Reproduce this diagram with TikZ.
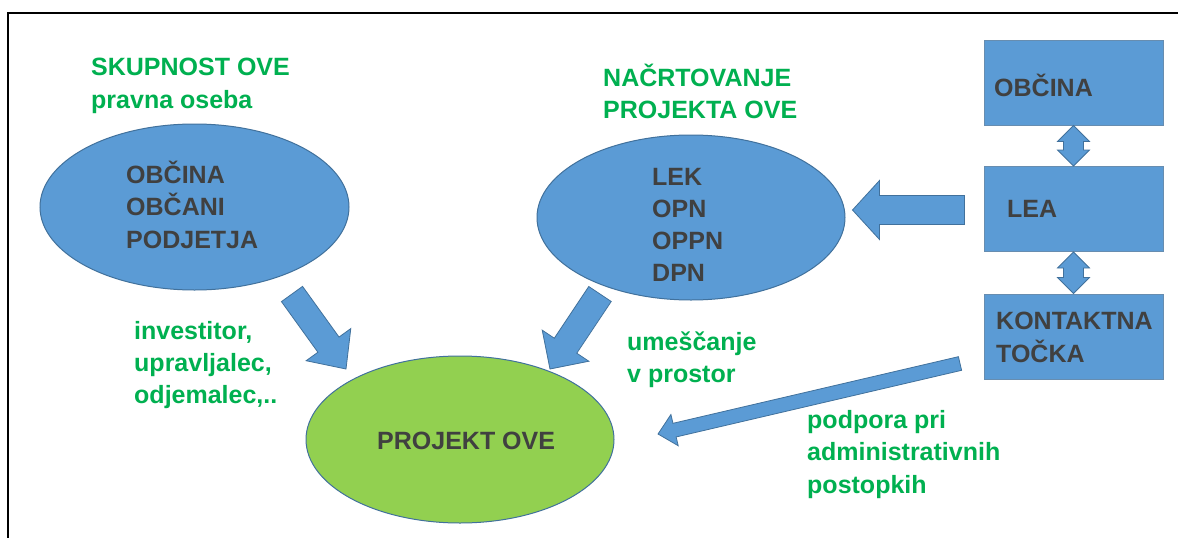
\documentclass[tikz,border=0pt]{standalone}
\usepackage{fontspec}
\setmainfont{Liberation Sans}
\usetikzlibrary{calc,shapes.geometric}
\definecolor{bfill}{HTML}{5B9BD5}
\definecolor{bline}{HTML}{41719C}
\definecolor{gfill}{HTML}{92D050}
\definecolor{gtext}{HTML}{00B050}
\definecolor{dtext}{HTML}{404040}
\newcommand\barrow[5]{%
  \coordinate (bh) at ($(#2)!#5!(#1)$);
  \filldraw[blockarrow] ($(#1)!#3!90:(#2)$) -- ($(bh)!#3!90:(#2)$) -- ($(bh)!#4!90:(#2)$) -- (#2) -- ($(bh)!#4!-90:(#2)$) -- ($(bh)!#3!-90:(#2)$) -- ($(#1)!#3!-90:(#2)$) -- cycle;}
\newcommand\dbarrow[5]{%
  \coordinate (ha) at ($(#1)!#5!(#2)$);
  \coordinate (hb) at ($(#2)!#5!(#1)$);
  \filldraw[blockarrow] (#1) -- ($(ha)!#4!90:(#2)$) -- ($(ha)!#3!90:(#2)$) -- ($(hb)!#3!-90:(#1)$) -- ($(hb)!#4!-90:(#1)$) -- (#2) -- ($(hb)!#4!90:(#1)$) -- ($(hb)!#3!90:(#1)$) -- ($(ha)!#3!-90:(#2)$) -- ($(ha)!#4!-90:(#2)$) -- cycle;}
\begin{document}
\begin{tikzpicture}[x=1pt,y=-1pt,
  blockarrow/.style={fill=bfill,draw=bline,line width=0.8pt},
  blueell/.style={ellipse,fill=bfill,draw=bline,line width=1pt,inner sep=0pt},
  greenell/.style={ellipse,fill=gfill,draw=bline,line width=1pt,inner sep=0pt},
  bluebox/.style={rectangle,fill=bfill,draw=bline!80!white,line width=1pt,minimum width=179pt,minimum height=85pt,inner sep=0pt},
  lbl/.style={anchor=base west,inner sep=0pt,align=left,font=\fontsize{25}{32.5}\selectfont\bfseries},
  gl/.style={lbl,text=gtext},
  dl/.style={lbl,text=dtext}]
\useasboundingbox (0,0) rectangle (1178,538);
\fill[white] (0,0) rectangle (1178,538);
% frame
\draw[line width=2pt,black] (8,538) -- (8,13) -- (1178,13);
% shapes
\node[blueell,minimum width=309pt,minimum height=166pt] (e1) at (194.5,207) {};
\node[blueell,minimum width=308pt,minimum height=165pt] (e2) at (691,217.5) {};
\node[greenell,minimum width=308pt,minimum height=167pt] (ep) at (460,439.5) {};
\node[bluebox] (obcina) at (1073.5,82.5) {};
\node[bluebox] (lea) at (1073.5,209) {};
\node[bluebox] (kont) at (1073.5,336.5) {};
% arrows
\coordinate (a1t) at (292,294);
\coordinate (a1p) at (346,369);
\coordinate (a2t) at (600,294);
\coordinate (a2p) at (550,369);
\coordinate (a3t) at ($(lea.west)+(-19,1)$);
\coordinate (a3p) at ($(e2.east)+(7,-7.5)$);
\coordinate (a4t) at (960,363.5);
\coordinate (a4p) at (658,434);
\barrow{a1t}{a1p}{13pt}{27.5pt}{30pt}
\barrow{a2t}{a2p}{13.5pt}{28pt}{28pt}
\barrow{a3t}{a3p}{14.5pt}{29.5pt}{27pt}
\barrow{a4t}{a4p}{7pt}{16pt}{17pt}
\dbarrow{obcina.south}{lea.north}{10pt}{16pt}{16pt}
\dbarrow{lea.south}{kont.north}{10pt}{16pt}{16pt}
% texts (multi-line nodes: base anchor = last line)
\node[gl] (t1) at (91,108) {SKUPNOST OVE\\pravna oseba};
\node[dl] (t2) at (126,248) {OBČINA\\OBČANI\\PODJETJA};
\node[gl,font=\fontsize{25}{32}\selectfont\bfseries] (t3) at (603,118) {NAČRTOVANJE\\PROJEKTA OVE};
\node[dl,font=\fontsize{25}{32}\selectfont\bfseries] (t4) at (652,281) {LEK\\OPN\\OPPN\\DPN};
\node[dl] (t5) at (994,96) {OBČINA};
\node[dl] (t6) at (1007,217) {LEA};
\node[dl,font=\fontsize{25}{33}\selectfont\bfseries] (t7) at (996,362) {KONTAKTNA\\TOČKA};
\node[dl] (t8) at (377,449) {PROJEKT OVE};
\node[gl,font=\fontsize{25}{32}\selectfont\bfseries] (t9) at (134,403) {investitor,\\upravljalec,\\odjemalec,..};
\node[gl,font=\fontsize{25}{32}\selectfont\bfseries] (t10) at (627,382) {umeščanje\\v prostor};
\node[gl] (t11) at (807,493) {podpora pri\\administrativnih\\postopkih};
\end{tikzpicture}
\end{document}
